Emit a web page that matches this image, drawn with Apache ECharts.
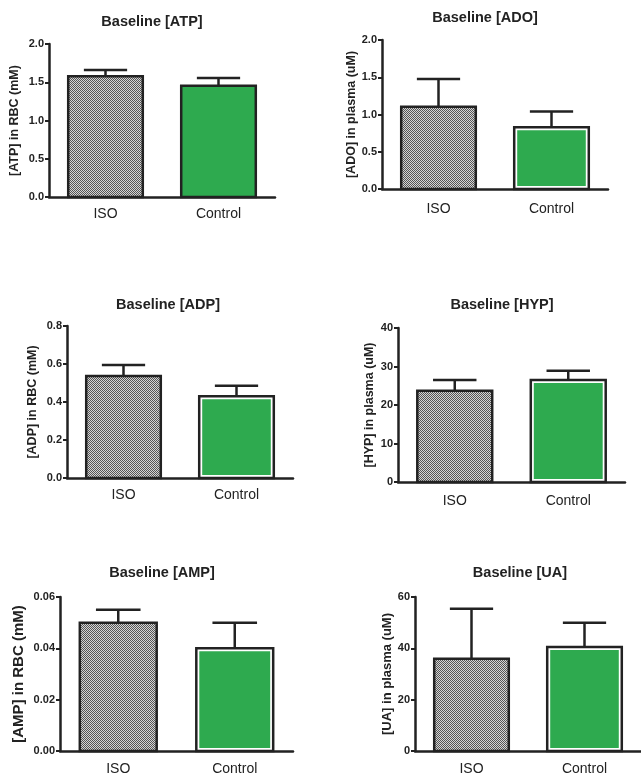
<!DOCTYPE html>
<html>
<head>
<meta charset="utf-8">
<script src="https://cdn.jsdelivr.net/npm/echarts@6/dist/echarts.min.js"></script>
<style>
  html, body { margin: 0; padding: 0; background: #fff; }
  #chart { width: 641px; height: 778px; }
</style>
</head>
<body>
<div id="chart"></div>
<script>
// 数据 - 均值和上误差（SEM）
var categories = ['ISO', 'Control'];
var atpMean = [1.58, 1.455], atpSem = [0.08, 0.10];
var adoMean = [1.105, 0.83], adoSem = [0.37, 0.21];
var adpMean = [0.537, 0.43], adpSem = [0.058, 0.056];
var hypMean = [23.7, 26.5], hypSem = [2.8, 2.4];
var ampMean = [0.050, 0.040], ampSem = [0.005, 0.010];
var uaMean = [35.9, 40.5], uaSem = [19.5, 9.5];

var titles = ['Baseline [ATP]', 'Baseline [ADO]', 'Baseline [ADP]', 'Baseline [HYP]', 'Baseline [AMP]', 'Baseline [UA]'];
var yNames = ['[ATP] in RBC (mM)', '[ADO] in plasma (uM)', '[ADP] in RBC (mM)', '[HYP] in plasma (uM)', '[AMP] in RBC (mM)', '[UA] in plasma (uM)'];
var yMax = [2.0, 2.0, 0.8, 40, 0.06, 60];
var yStep = [0.5, 0.5, 0.2, 10, 0.02, 20];
var yDigits = [1, 1, 1, 0, 2, 0];

var means = [atpMean, adoMean, adpMean, hypMean, ampMean, uaMean];
var sems = [atpSem, adoSem, adpSem, hypSem, ampSem, uaSem];

// 布局
var layout = [
    { left: 49, top: 44, width: 226, height: 153, nameGap: 28, nameSize: 12.5, tx: 152, ty: 22, lm: 10, inset: 0 },
    { left: 382, top: 40, width: 226, height: 149, nameGap: 23, nameSize: 12.5, tx: 485, ty: 18, lm: 13, inset: 3 },
    { left: 67, top: 326, width: 226, height: 152, nameGap: 28, nameSize: 12.5, tx: 168, ty: 305, lm: 10, inset: 3 },
    { left: 398, top: 328, width: 227, height: 154, nameGap: 22, nameSize: 12.5, tx: 502, ty: 305, lm: 12, inset: 3 },
    { left: 60, top: 597, width: 233, height: 154, nameGap: 34, nameSize: 15, tx: 162, ty: 573, lm: 11, inset: 3 },
    { left: 415, top: 597, width: 227, height: 154, nameGap: 21, nameSize: 13, tx: 520, ty: 573, lm: 11, inset: 3 }
];

var FONT = '"Liberation Sans", Arial, sans-serif';
var DARK = '#222';
var GREEN = '#2eaa4f';

// 棋盘格灰色填充
var pc = document.createElement('canvas');
pc.width = 2; pc.height = 2;
var pctx = pc.getContext('2d');
pctx.fillStyle = '#d5d5d5'; pctx.fillRect(0, 0, 2, 2);
pctx.fillStyle = '#555555'; pctx.fillRect(0, 0, 1, 1); pctx.fillRect(1, 1, 1, 1);
var isoPattern = { image: pc, repeat: 'repeat' };

function makeRender(inset) {
    return function (params, api) {
        var i = api.value(0);
        var base = api.coord([i, 0]);
        var top = api.coord([i, api.value(1)]);
        var hi = api.coord([i, api.value(2)]);
        var w = api.size([1, 0])[0] * 0.66;
        var x0 = base[0] - w / 2;
        var h = base[1] - top[1];
        var cap = w * 0.58;
        var children = [
            { type: 'line', shape: { x1: base[0], y1: top[1], x2: base[0], y2: hi[1] }, style: { stroke: DARK, lineWidth: 2.5 } },
            { type: 'line', shape: { x1: base[0] - cap / 2, y1: hi[1], x2: base[0] + cap / 2, y2: hi[1] }, style: { stroke: DARK, lineWidth: 2.5 } }
        ];
        if (i === 0) {
            children.push({ type: 'rect', shape: { x: x0, y: top[1], width: w, height: h }, style: { fill: isoPattern, stroke: DARK, lineWidth: 2.5 } });
        } else {
            children.push({ type: 'rect', shape: { x: x0, y: top[1], width: w, height: h }, style: { fill: inset ? '#fff' : GREEN, stroke: DARK, lineWidth: 2.5 } });
            if (inset) {
                children.push({ type: 'rect', shape: { x: x0 + inset, y: top[1] + inset, width: w - 2 * inset, height: h - 2 * inset }, style: { fill: GREEN } });
            }
        }
        return { type: 'group', children: children };
    };
}

var grids = [], xAxes = [], yAxes = [], series = [], graphics = [];
for (var k = 0; k < 6; k++) {
    var L = layout[k];
    grids.push({ left: L.left, top: L.top, width: L.width, height: L.height, containLabel: false });
    xAxes.push({
        type: 'category', gridIndex: k, data: categories,
        axisLine: { lineStyle: { color: DARK, width: 2.5 } },
        axisTick: { show: false },
        axisLabel: { color: DARK, fontSize: 14, fontFamily: FONT, margin: L.lm },
        splitLine: { show: false }
    });
    (function (d) {
        yAxes.push({
            type: 'value', gridIndex: k, min: 0, max: yMax[k], interval: yStep[k],
            name: yNames[k], nameLocation: 'middle', nameRotate: 90, nameGap: L.nameGap,
            nameTextStyle: { color: DARK, fontSize: L.nameSize, fontWeight: 'bold', fontFamily: FONT },
            axisLine: { show: true, lineStyle: { color: DARK, width: 2.5 } },
            axisTick: { show: true, length: 4, lineStyle: { color: DARK, width: 2 } },
            axisLabel: { color: DARK, fontSize: 11, fontWeight: 'bold', fontFamily: FONT, margin: 5,
                formatter: function (v) { return v.toFixed(d); } },
            splitLine: { show: false }
        });
    })(yDigits[k]);
    var data = [];
    for (var j = 0; j < categories.length; j++) {
        data.push([j, means[k][j], means[k][j] + sems[k][j]]);
    }
    series.push({
        type: 'custom', xAxisIndex: k, yAxisIndex: k, clip: false,
        renderItem: makeRender(L.inset),
        encode: { x: 0, y: [1, 2] },
        data: data
    });
    graphics.push({
        type: 'text', x: L.tx, y: L.ty,
        style: { text: titles[k], fill: DARK, font: 'bold 14.5px ' + FONT,
            align: 'center', verticalAlign: 'middle', textAlign: 'center', textVerticalAlign: 'middle' }
    });
}

var myChart = echarts.init(document.getElementById('chart'), null, { renderer: 'canvas' });
myChart.setOption({
    backgroundColor: '#fff',
    animation: false,
    grid: grids,
    xAxis: xAxes,
    yAxis: yAxes,
    series: series,
    graphic: graphics
});
</script>
</body>
</html>
